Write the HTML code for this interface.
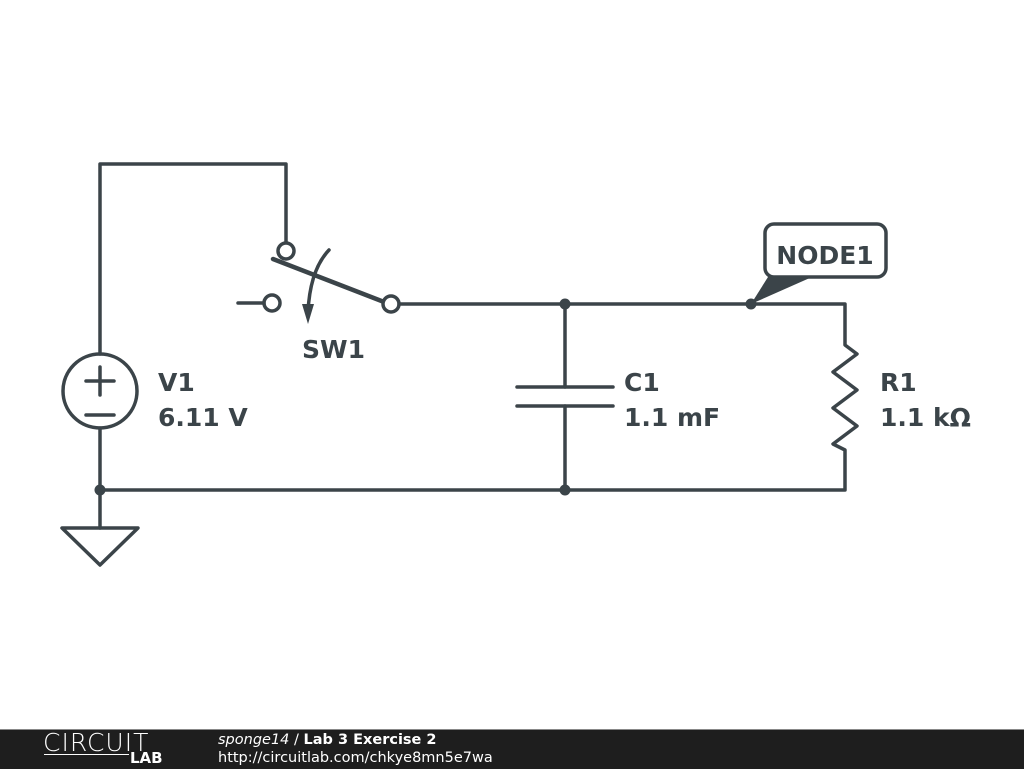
<!DOCTYPE html>
<html><head><style>
body{margin:0;background:#fff;width:1024px;height:768px;overflow:hidden;position:relative;font-family:"DejaVu Sans","Liberation Sans",sans-serif}
.f{position:absolute;left:0;top:729px;width:1024px;height:39px;background:#1e1e1e;border-top:1px solid #888}
</style></head><body>
<svg width="1024" height="730" style="position:absolute;left:0;top:0">
<g stroke="#3b4449" stroke-width="3.5" fill="none" stroke-linecap="round" stroke-linejoin="round">
<polyline points="100,354 100,164 286,164 286,243"/>
<circle cx="286" cy="251" r="8" fill="#fff"/>
<line x1="273" y1="259" x2="384" y2="302" stroke-width="4.5"/>
<circle cx="391" cy="304" r="8" fill="#fff"/>
<circle cx="272" cy="303" r="8" fill="#fff"/>
<line x1="238" y1="303" x2="264" y2="303"/>
<path d="M329,250 Q310,270 308,312"/>
<polyline points="399,304 845,304 845,345 857,354 833,372 857,390 833,408 857,426 833,444 845,450 845,490 100,490 100,528"/>
<polygon points="62,528 138,528 100,565"/>
<circle cx="100" cy="391" r="37"/>
<line x1="86" y1="381" x2="114" y2="381"/><line x1="100" y1="367" x2="100" y2="395"/>
<line x1="86" y1="415" x2="114" y2="415"/>
<line x1="100" y1="428" x2="100" y2="490"/>
<line x1="565" y1="304" x2="565" y2="387"/><line x1="565" y1="406" x2="565" y2="490"/>
<line x1="517" y1="387" x2="613" y2="387"/><line x1="517" y1="406" x2="613" y2="406"/>
<rect x="765" y="224" width="121" height="53" rx="9" fill="#fff"/>
</g>
<polygon points="302,304 314,304 308,324" fill="#3b4449"/>
<polygon points="751,304 768,277 812,277" fill="#3b4449"/>
<g fill="#3b4449"><circle cx="565" cy="304" r="5.5"/><circle cx="751" cy="304" r="5.5"/><circle cx="565" cy="490" r="5.5"/><circle cx="100" cy="490" r="5.5"/></g>
<g fill="#3b4449" font-family="DejaVu Sans,Liberation Sans,sans-serif" font-weight="bold" font-size="25">
<text x="825" y="264" text-anchor="middle">NODE1</text>
<text x="302" y="358">SW1</text>
<text x="158" y="391">V1</text><text x="158" y="426">6.11 V</text>
<text x="624" y="391">C1</text><text x="624" y="426">1.1 mF</text>
<text x="880" y="391">R1</text><text x="880" y="426">1.1 kΩ</text>
</g>
</svg>
<div class="f">
<div style="position:absolute;left:43px;top:0;color:#fff;font-size:25px;letter-spacing:1px;font-weight:300;line-height:26px">CIRCUIT</div>
<div style="position:absolute;left:44px;top:24px;width:85px;height:1px;background:#fff"></div>
<div style="position:absolute;left:130px;top:19px;color:#fff;font-size:15px;font-weight:bold;line-height:18px">LAB</div>
<div style="position:absolute;left:218px;top:1px;color:#fff;font-size:14.5px;line-height:18px"><i>sponge14</i> / <b>Lab 3 Exercise 2</b></div>
<div style="position:absolute;left:218px;top:19px;color:#fff;font-size:14.5px;line-height:18px">http://circuitlab.com/chkye8mn5e7wa</div>
</div>
</body></html>
